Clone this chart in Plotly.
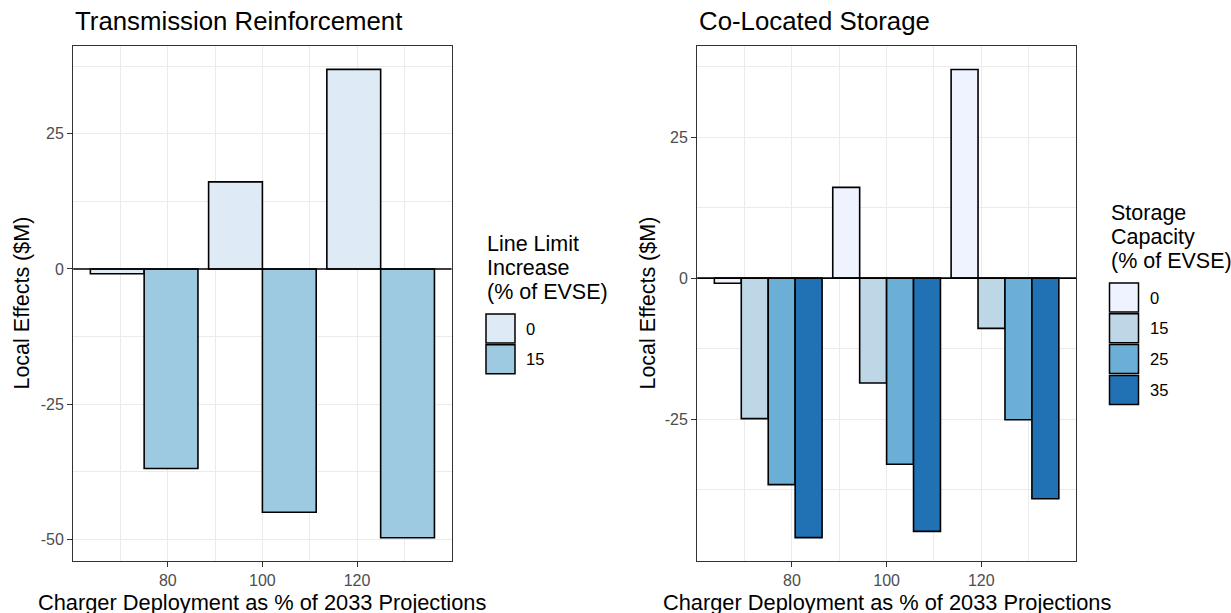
import plotly.graph_objects as go

# ---------------- data ----------------
deployment = [75, 100, 125]               # charger deployment (% of 2033 projections)
x_tick_vals = [80, 100, 120]
x_tick_text = ["80", "100", "120"]

# Transmission Reinforcement panel (line limit increase, % of EVSE)
line_limit_levels = ["0", "15"]
line_limit_colors = ["#DEEBF7", "#9ECAE1"]
trans_0 = [-0.9, 16.1, 36.9]
trans_15 = [-36.9, -45.0, -49.7]

# Co-Located Storage panel (storage capacity, % of EVSE)
storage_levels = ["0", "15", "25", "35"]
storage_colors = ["#EFF3FF", "#BDD7E7", "#6BAED6", "#2171B5"]
storage_0 = [-0.9, 16.1, 37.0]
storage_15 = [-24.9, -18.6, -8.9]
storage_25 = [-36.6, -33.0, -25.1]
storage_35 = [-46.0, -44.9, -39.1]

left_y_ticks = [-50, -25, 0, 25]
left_y_text = ["-50", "-25", "0", "25"]
right_y_ticks = [-25, 0, 25]
right_y_text = ["-25", "0", "25"]
y_minor = [-37.5, -12.5, 12.5, 37.5]
x_minor = [70, 90, 110, 130]

panel_titles = ["Transmission Reinforcement", "Co-Located Storage"]
x_title = "Charger Deployment as % of 2033 Projections"
y_title = "Local Effects ($M)"
legend_titles = [["Line Limit", "Increase", "(% of EVSE)"],
                 ["Storage", "Capacity", "(% of EVSE)"]]

# ---------------- layout constants ----------------
W, H = 1231, 613
FONT = "Liberation Sans, Arial, sans-serif"
def px(x):
    return x / W
def py(y):
    return 1 - y / H

fig = go.Figure()

for lvl, col, vals in zip(line_limit_levels, line_limit_colors, [trans_0, trans_15]):
    fig.add_trace(go.Bar(x=deployment, y=vals, name=lvl, marker=dict(color=col, line=dict(color="black", width=1.6)),
                         xaxis="x", yaxis="y", showlegend=False))
for lvl, col, vals in zip(storage_levels, storage_colors, [storage_0, storage_15, storage_25, storage_35]):
    fig.add_trace(go.Bar(x=deployment, y=vals, name=lvl, marker=dict(color=col, line=dict(color="black", width=1.6)),
                         xaxis="x2", yaxis="y2", showlegend=False))

def xaxis(domain, anchor):
    return dict(domain=domain, anchor=anchor, range=[60, 140], tickmode="array", tickvals=x_tick_vals,
                ticktext=x_tick_text, showgrid=True, gridcolor="#EBEBEB", gridwidth=1.3,
                minor=dict(tickvals=x_minor, showgrid=True, gridcolor="#EBEBEB", gridwidth=0.7),
                showline=True, mirror=True, linecolor="#333333", linewidth=1.3, ticks="outside",
                ticklen=5, tickwidth=1.3, tickcolor="#333333", zeroline=False,
                tickfont=dict(family=FONT, size=16, color="#4D4D4D"), fixedrange=True)

def yaxis(domain, anchor, rng, tv, tt):
    return dict(domain=domain, anchor=anchor, range=rng, tickmode="array", tickvals=tv, ticktext=tt,
                showgrid=True, gridcolor="#EBEBEB", gridwidth=1.3,
                minor=dict(tickvals=y_minor, showgrid=True, gridcolor="#EBEBEB", gridwidth=0.7),
                showline=True, mirror=True, linecolor="#333333", linewidth=1.3, ticks="outside",
                ticklen=5, tickwidth=1.3, tickcolor="#333333", zeroline=False,
                tickfont=dict(family=FONT, size=16, color="#4D4D4D"), fixedrange=True)

left_dom = [px(73.2), px(451.6)]
right_dom = [px(697.2), px(1076)]
y_dom = [py(561), py(46.1)]

annotations = []
shapes = []

# panel titles, axis titles
for dom, ttl, ytx in [(left_dom, panel_titles[0], 22), (right_dom, panel_titles[1], 648)]:
    annotations.append(dict(text=ttl, x=dom[0], y=py(21), xref="paper", yref="paper", xanchor="left",
                            yanchor="middle", showarrow=False, font=dict(family=FONT, size=25.8, color="black")))
    annotations.append(dict(text=x_title, x=(dom[0] + dom[1]) / 2, y=py(602), xref="paper", yref="paper",
                            xanchor="center", yanchor="middle", showarrow=False,
                            font=dict(family=FONT, size=21.8, color="black")))
    annotations.append(dict(text=y_title, x=px(ytx), y=(y_dom[0] + y_dom[1]) / 2, xref="paper", yref="paper",
                            xanchor="center", yanchor="middle", textangle=-90, showarrow=False,
                            font=dict(family=FONT, size=21.5, color="black")))

# zero reference lines
for xr, yr in [("x domain", "y"), ("x2 domain", "y2")]:
    shapes.append(dict(type="line", xref=xr, yref=yr, x0=0, x1=1, y0=0, y1=0,
                       line=dict(color="black", width=1.6), layer="above"))

# legends (drawn keys)
def build_legend(left_px, title_lines, title_y0, levels, colors):
    for i, t in enumerate(title_lines):
        annotations.append(dict(text=t, x=px(left_px - 1), y=py(title_y0 + 24 * i), xref="paper", yref="paper",
                                xanchor="left", yanchor="middle", showarrow=False,
                                font=dict(family=FONT, size=21.5, color="black")))
    key_top = title_y0 + 24 * (len(title_lines) - 1) + 22
    for i, (lvl, col) in enumerate(zip(levels, colors)):
        top = key_top + 30.8 * i
        shapes.append(dict(type="rect", xref="paper", yref="paper", x0=px(left_px), x1=px(left_px + 29),
                           y0=py(top + 29), y1=py(top), fillcolor=col, line=dict(color="black", width=1.5)))
        annotations.append(dict(text=lvl, x=px(left_px + 38), y=py(top + 14.5), xref="paper", yref="paper",
                                xanchor="left", yanchor="middle", showarrow=False,
                                font=dict(family=FONT, size=16.5, color="black")))

build_legend(486, legend_titles[0], 244, line_limit_levels, line_limit_colors)
build_legend(1109.5, legend_titles[1], 213, storage_levels, storage_colors)

fig.update_layout(
    width=W, height=H, margin=dict(l=0, r=0, t=0, b=0, pad=0),
    paper_bgcolor="white", plot_bgcolor="white",
    barmode="group", bargap=0.09, bargroupgap=0,
    xaxis=xaxis(left_dom, "y"), yaxis=yaxis(y_dom, "x", [-54.0, 41.2], left_y_ticks, left_y_text),
    xaxis2=xaxis(right_dom, "y2"), yaxis2=yaxis(y_dom, "x2", [-50.15, 41.15], right_y_ticks, right_y_text),
    annotations=annotations, shapes=shapes, showlegend=False,
    font=dict(family=FONT),
)

fig.write_html("out.html", config={"displayModeBar": False},
               post_script="document.body.style.margin='0';document.body.style.overflow='hidden';")
